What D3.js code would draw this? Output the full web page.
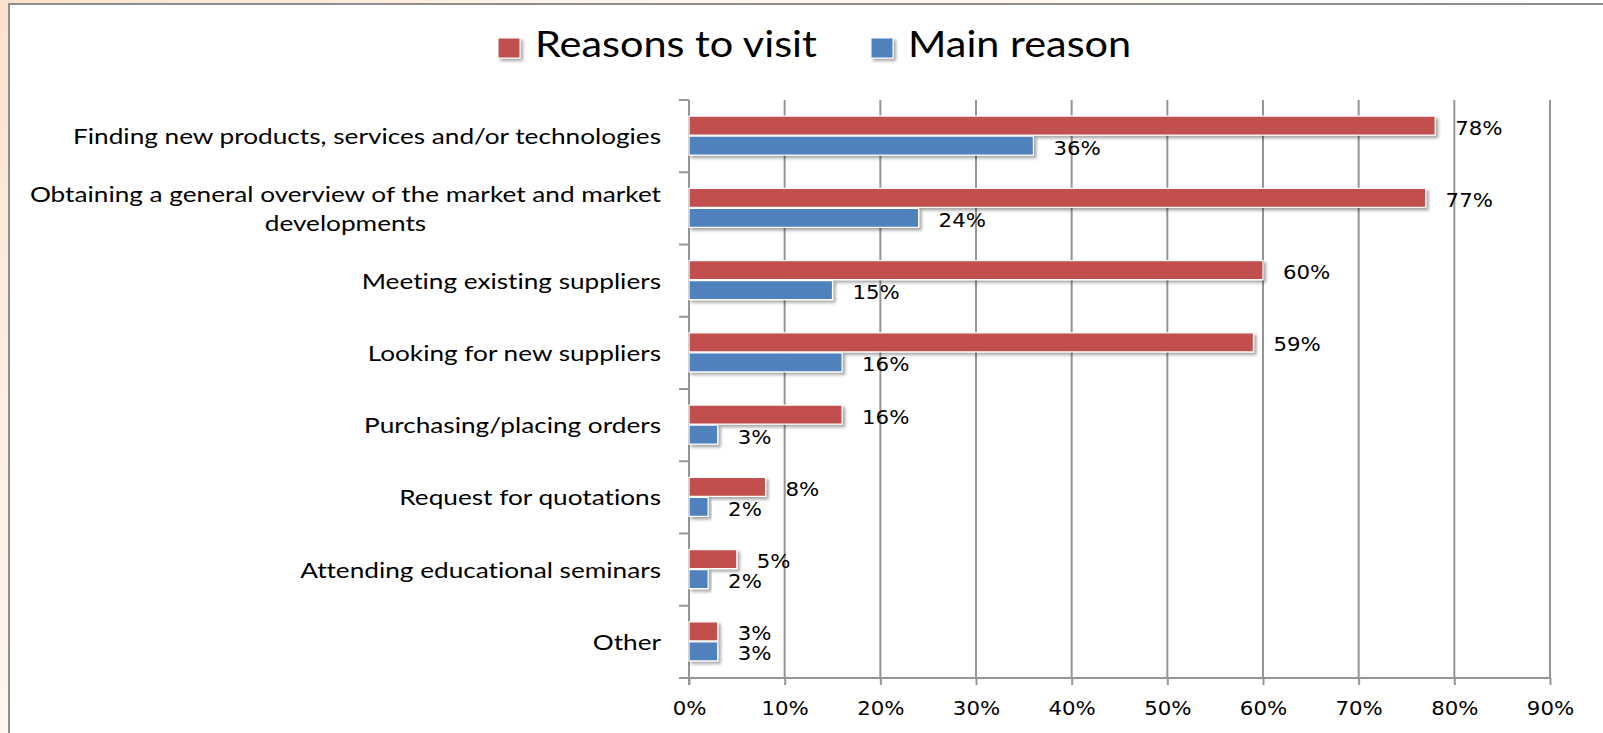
<!DOCTYPE html>
<html>
<head>
<meta charset="utf-8">
<script src="https://cdn.jsdelivr.net/npm/d3@7"></script>
<style>
  html, body { margin: 0; padding: 0; background: #fff; }
  svg { display: block; }
  text { font-variant-ligatures: none; font-feature-settings: "liga" 0, "clig" 0; }
</style>
</head>
<body>
<svg id="chart" width="1603" height="733"></svg>
<script>
// Why visitors come to the trade fair: share of respondents per reason
const categories = [
  "Finding new products, services and/or technologies",
  "Obtaining a general overview of the market and market developments",
  "Meeting existing suppliers",
  "Looking for new suppliers",
  "Purchasing/placing orders",
  "Request for quotations",
  "Attending educational seminars",
  "Other"
];
const reasonsToVisit = [0.78, 0.77, 0.60, 0.59, 0.16, 0.08, 0.05, 0.03];
const mainReason     = [0.36, 0.24, 0.15, 0.16, 0.03, 0.02, 0.02, 0.03];
const seriesNames  = ["Reasons to visit", "Main reason"];
const seriesColors = ["#C0504D", "#4F81BD"];
const xTicks = [0, 0.1, 0.2, 0.3, 0.4, 0.5, 0.6, 0.7, 0.8, 0.9];

const W = 1603, H = 733;
const plot = { left: 689, right: 1550, top: 100, bottom: 678 };
const svg = d3.select("#chart");

// horizontal stretch applied to every text run
function stretch(sel, k) {
  sel.each(function () {
    const len = this.getComputedTextLength();
    if (len > 0) {
      this.setAttribute("textLength", len * k);
      this.setAttribute("lengthAdjust", "spacingAndGlyphs");
    }
  });
}

const defs = svg.append("defs");
const bg = defs.append("linearGradient").attr("id", "peach")
  .attr("x1", "0").attr("y1", "0").attr("x2", "0.35").attr("y2", "1");
bg.append("stop").attr("offset", "0").attr("stop-color", "#fbe2cc");
bg.append("stop").attr("offset", "0.5").attr("stop-color", "#fdefe2");
bg.append("stop").attr("offset", "1").attr("stop-color", "#fff8f2");
const topFade = defs.append("linearGradient").attr("id", "topfade")
  .attr("x1", "0").attr("y1", "0").attr("x2", "1").attr("y2", "0");
topFade.append("stop").attr("offset", "0").attr("stop-color", "#fbe2cc");
topFade.append("stop").attr("offset", "0.35").attr("stop-color", "#fdf3ea");
topFade.append("stop").attr("offset", "1").attr("stop-color", "#ffffff");

const shadow = defs.append("filter").attr("id", "shadow")
  .attr("x", "-10%").attr("y", "-30%").attr("width", "130%").attr("height", "190%");
shadow.append("feDropShadow").attr("dx", 2.5).attr("dy", 2.5)
  .attr("stdDeviation", 1.6).attr("flood-color", "#000").attr("flood-opacity", 0.35);

// page background and chart frame
svg.append("rect").attr("width", W).attr("height", H).attr("fill", "url(#peach)");
svg.append("rect").attr("width", W).attr("height", 6).attr("fill", "url(#topfade)");
svg.append("rect").attr("x", 9).attr("y", 4).attr("width", W).attr("height", H)
  .attr("fill", "#fff").attr("stroke", "#8e8e8e").attr("stroke-width", 2);

const x = d3.scaleLinear().domain([0, 0.9]).range([plot.left, plot.right]);
const y = d3.scaleBand().domain(categories).range([plot.top, plot.bottom]);
const barH = 20;
const y1 = d3.scaleBand().domain(seriesNames)
  .range([y.bandwidth() / 2 - barH, y.bandwidth() / 2 + barH]);

// vertical gridlines
svg.append("g").selectAll("line").data(xTicks).join("line")
  .attr("x1", d => x(d)).attr("x2", d => x(d))
  .attr("y1", plot.top).attr("y2", plot.bottom)
  .attr("stroke", "#959595").attr("stroke-width", 2);

// bottom value axis
const xAxis = svg.append("g").attr("transform", `translate(0,${plot.bottom})`)
  .call(d3.axisBottom(x).tickValues(xTicks).tickFormat(d3.format(".0%"))
    .tickSize(7).tickPadding(17).tickSizeOuter(0));
xAxis.select(".domain").remove();
xAxis.selectAll(".tick line").attr("stroke", "#959595").attr("stroke-width", 2);
xAxis.selectAll(".tick text")
  .attr("font-family", "DejaVu Sans").attr("font-size", 19).attr("fill", "#000")
  .call(stretch, 1.12);
svg.append("line")
  .attr("x1", plot.left - 10).attr("x2", plot.right + 1)
  .attr("y1", plot.bottom).attr("y2", plot.bottom)
  .attr("stroke", "#959595").attr("stroke-width", 2);

// category axis: line plus ticks between categories
const boundaries = categories.map(c => y(c)).concat([plot.bottom]);
svg.append("line")
  .attr("x1", plot.left).attr("x2", plot.left)
  .attr("y1", plot.top).attr("y2", plot.bottom + 7)
  .attr("stroke", "#959595").attr("stroke-width", 2);
svg.append("g").selectAll("line").data(boundaries).join("line")
  .attr("x1", plot.left - 10).attr("x2", plot.left)
  .attr("y1", d => d).attr("y2", d => d)
  .attr("stroke", "#959595").attr("stroke-width", 2);

// category labels, wrapped and centred line by line
const labelRight = 661, maxLabel = 650, labelK = 1.19, lineGap = 29;
const labelFont = { family: "Lato", size: 22 };
categories.forEach(cat => {
  const g = svg.append("g");
  const probe = g.append("text").attr("font-family", labelFont.family)
    .attr("font-size", labelFont.size);
  const words = cat.split(" ");
  const lines = [];
  let cur = [];
  words.forEach(w => {
    const trial = cur.concat([w]).join(" ");
    probe.text(trial);
    if (probe.node().getComputedTextLength() * labelK > maxLabel && cur.length) {
      lines.push(cur.join(" "));
      cur = [w];
    } else cur.push(w);
  });
  lines.push(cur.join(" "));
  const widths = lines.map(l => { probe.text(l); return probe.node().getComputedTextLength() * labelK; });
  probe.remove();
  const wMax = d3.max(widths);
  const cx = labelRight - wMax / 2;
  const cy = y(cat) + y.bandwidth() / 2;
  lines.forEach((l, i) => {
    g.append("text")
      .attr("x", cx)
      .attr("y", cy + (i - (lines.length - 1) / 2) * lineGap + 8)
      .attr("text-anchor", "middle")
      .attr("font-family", labelFont.family).attr("font-size", labelFont.size)
      .attr("fill", "#000")
      .text(l)
      .call(stretch, labelK);
  });
});

// bars
const rows = categories.map((c, i) => ({ cat: c, values: [reasonsToVisit[i], mainReason[i]] }));
const barsG = svg.append("g");
seriesNames.forEach((s, si) => {
  barsG.append("g").selectAll("rect").data(rows).join("rect")
    .attr("x", x(0))
    .attr("y", d => y(d.cat) + y1(s))
    .attr("width", d => x(d.values[si]) - x(0))
    .attr("height", y1.bandwidth() - 1)
    .attr("fill", seriesColors[si])
    .attr("stroke", "#fff").attr("stroke-width", 1.2)
    .attr("filter", "url(#shadow)");
});

// value labels
seriesNames.forEach((s, si) => {
  svg.append("g").selectAll("text").data(rows).join("text")
    .attr("x", d => x(d.values[si]) + 20)
    .attr("y", d => y(d.cat) + y1(s) + y1.bandwidth() / 2 + 8.5)
    .attr("font-family", "DejaVu Sans").attr("font-size", 19).attr("fill", "#000")
    .text(d => d3.format(".0%")(d.values[si]))
    .call(stretch, 1.12);
});

// legend
const legend = svg.append("g");
const legendX = [498, 871];
seriesNames.forEach((s, i) => {
  legend.append("rect")
    .attr("x", legendX[i]).attr("y", 38).attr("width", 22).attr("height", 20)
    .attr("fill", seriesColors[i]).attr("stroke", "#fff").attr("stroke-width", 1)
    .attr("filter", "url(#shadow)");
  legend.append("text")
    .attr("x", legendX[i] + 37).attr("y", 57)
    .attr("font-family", "Lato").attr("font-size", 36).attr("fill", "#000")
    .text(s)
    .call(stretch, 1.15);
});
</script>
</body>
</html>
